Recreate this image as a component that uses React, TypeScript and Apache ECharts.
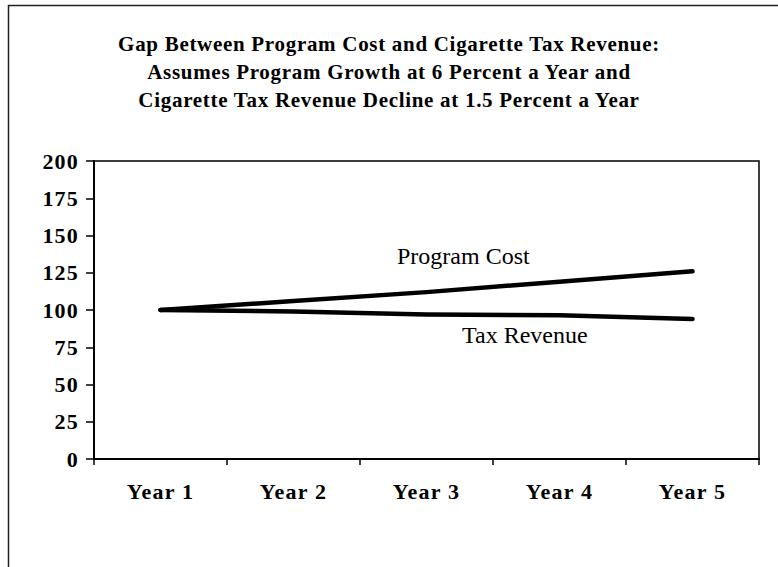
import React, { useEffect, useRef } from "react";
import * as echarts from "echarts";

const categories = ["Year 1", "Year 2", "Year 3", "Year 4", "Year 5"];
const programCost = [100, 106, 112, 119, 126];
const taxRevenue = [100, 99, 97, 96.5, 94];
const titleLines = [
  "Gap Between Program Cost and Cigarette Tax Revenue:",
  "Assumes Program Growth at 6 Percent a Year and",
  "Cigarette Tax Revenue Decline at 1.5 Percent a Year",
];
const seriesNames = ["Program Cost", "Tax Revenue"];

const FONT = '"Liberation Serif", "Times New Roman", serif';

export default function App() {
  const ref = useRef<HTMLDivElement>(null);
  useEffect(() => {
    document.body.style.margin = "0";
    document.body.style.overflow = "hidden";
    const chart = echarts.init(ref.current!, null, { renderer: "svg" });
    chart.setOption({
      animation: false,
      backgroundColor: "#ffffff",
      grid: {
        left: 94,
        top: 161,
        width: 665,
        height: 298,
        show: true,
        borderColor: "#000",
        borderWidth: 1.5,
        backgroundColor: "transparent",
      },
      xAxis: {
        type: "category",
        data: categories,
        boundaryGap: true,
        axisLine: { lineStyle: { color: "#000", width: 2 } },
        axisTick: { show: true, length: 6, lineStyle: { color: "#000", width: 1.5 } },
        axisLabel: {
          margin: 21,
          color: "#000",
          fontFamily: FONT,
          fontWeight: "bold",
          fontSize: 22,
        },
        splitLine: { show: false },
      },
      yAxis: {
        type: "value",
        min: 0,
        max: 200,
        interval: 25,
        axisLine: { show: true, lineStyle: { color: "#000", width: 2 } },
        axisTick: { show: true, length: 8, lineStyle: { color: "#000", width: 1.5 } },
        axisLabel: {
          margin: 15,
          color: "#000",
          fontFamily: FONT,
          fontWeight: "bold",
          fontSize: 22,
        },
        splitLine: { show: false },
      },
      series: [
        {
          name: seriesNames[0],
          type: "line",
          data: programCost,
          symbol: "none",
          lineStyle: { color: "#000", width: 4.5, cap: "round", join: "round" },
        },
        {
          name: seriesNames[1],
          type: "line",
          data: taxRevenue,
          symbol: "none",
          lineStyle: { color: "#000", width: 4.5, cap: "round", join: "round" },
        },
      ],
      graphic: [
        {
          type: "rect",
          shape: { x: 8.5, y: 5.5, width: 800, height: 600 },
          style: { fill: "none", stroke: "#222", lineWidth: 1.5 },
          silent: true,
        },
        {
          type: "text",
          x: 389,
          y: 30,
          style: {
            text: titleLines.join("\n"),
            textAlign: "center",
            textVerticalAlign: "top",
            lineHeight: 28,
            font: `bold 21px ${FONT}`,
            fill: "#000",
          },
        },
        {
          type: "text",
          x: 397,
          y: 256,
          style: {
            text: seriesNames[0],
            textAlign: "left",
            textVerticalAlign: "middle",
            font: `24px ${FONT}`,
            fill: "#000",
          },
        },
        {
          type: "text",
          x: 462,
          y: 335,
          style: {
            text: seriesNames[1],
            textAlign: "left",
            textVerticalAlign: "middle",
            font: `24px ${FONT}`,
            fill: "#000",
          },
        },
      ],
    });
    return () => chart.dispose();
  }, []);
  return (
    <>
      <style>{`#chart text[style*="bold"][style*="21px"] { letter-spacing: 0.7px; }
#chart text[style*="bold"][style*="22px"] { letter-spacing: 1.2px; }`}</style>
      <div id="chart" ref={ref} style={{ width: 778, height: 567 }} />
    </>
  );
}
